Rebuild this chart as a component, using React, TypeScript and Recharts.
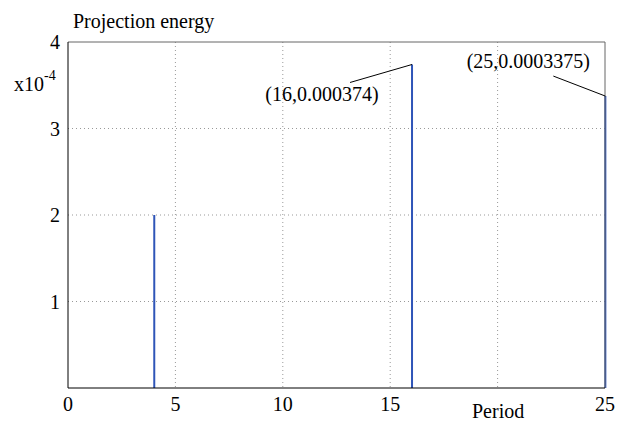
import React from "react";
import {
    ComposedChart, Bar, XAxis, YAxis, CartesianGrid, ReferenceLine, LabelList
} from "recharts";

// --- data ---
const periods = [4, 16, 25];
const energy = [0.0002, 0.000374, 0.0003375];
const annotations = ["", "(16,0.000374)", "(25,0.0003375)"];
const xTicks = [0, 5, 10, 15, 25];
const xGrid = [5, 10, 15, 20];
const yTicks = [0.0001, 0.0002, 0.0003, 0.0004];
const yGrid = [0.0001, 0.0002, 0.0003];

const data = periods.map((p, i) => ({ period: p, energy: energy[i], note: annotations[i] }));

const FONT = "Liberation Serif, Times New Roman, Times, serif";
const STEM = "#2f55b8";

// leader line end + text position, relative to top of each stem
const NOTE_OFFSETS = [
    null,
    { lx: -62, ly: 18, tx: -90, ty: 37 },
    { lx: -52, ly: -20, tx: -77, ty: -28 },
];

function NoteLabel(props: any) {
    const { x, y, width, value, index } = props;
    const off = NOTE_OFFSETS[index];
    if (!off || !value) return null;
    const cx = x + width / 2;
    return (
        <g>
            <line x1={cx} y1={y} x2={cx + off.lx} y2={y + off.ly} stroke="#000" strokeWidth={1} />
            <text x={cx + off.tx} y={y + off.ty} textAnchor="middle" style={{ fontFamily: FONT }} fontSize={20} fill="#000">
                {value}
            </text>
        </g>
    );
}

export default function App() {
    return (
        <div style={{ position: "absolute", left: 0, top: 0, width: 620, height: 422, background: "#fff", fontFamily: FONT }}>
            <ComposedChart width={620} height={422} data={data} margin={{ top: 42, right: 15, left: 20, bottom: 4 }} style={{ fontFamily: FONT }}>
                <CartesianGrid
                    stroke="#999"
                    strokeDasharray="1 3"
                    horizontalValues={yGrid}
                    verticalValues={xGrid}
                />
                <XAxis
                    dataKey="period"
                    type="number"
                    domain={[0, 25]}
                    ticks={xTicks}
                    height={30}
                    tickLine={false}
                    tickSize={0}
                    tickMargin={9}
                    axisLine={{ stroke: "#000" }}
                    tick={{ fill: "#000", fontSize: 20, fontFamily: FONT }}
                    label={(p: any) => {
                        const vb = p.viewBox;
                        return (
                            <text x={vb.x + 404} y={vb.y + 30} textAnchor="start" style={{ fontFamily: FONT }} fontSize={20} fill="#000">
                                Period
                            </text>
                        );
                    }}
                />
                <YAxis
                    type="number"
                    domain={[0, 0.0004]}
                    ticks={yTicks}
                    width={48}
                    tickLine={false}
                    tickSize={0}
                    tickMargin={8}
                    axisLine={{ stroke: "#000" }}
                    tickFormatter={(v: number) => String(Math.round(v * 1e4))}
                    tick={{ fill: "#000", fontSize: 20, fontFamily: FONT }}
                    label={(p: any) => {
                        const vb = p.viewBox;
                        return (
                            <g style={{ fontFamily: FONT }}>
                                <text x={vb.x + 53} y={vb.y - 14} fontSize={20} fill="#000">
                                    Projection energy
                                </text>
                                <text x={vb.x - 6} y={vb.y + 49} fontSize={20} fill="#000">
                                    x10
                                    <tspan dy={-11} fontSize={14}>-4</tspan>
                                </text>
                            </g>
                        );
                    }}
                />
                <ReferenceLine y={0.0004} stroke="#666" strokeWidth={1} ifOverflow="visible" />
                <ReferenceLine x={25} stroke="#666" strokeWidth={1} ifOverflow="visible" />
                <Bar dataKey="energy" fill={STEM} barSize={2} isAnimationActive={false}>
                    <LabelList dataKey="note" content={NoteLabel} />
                </Bar>
            </ComposedChart>
        </div>
    );
}
